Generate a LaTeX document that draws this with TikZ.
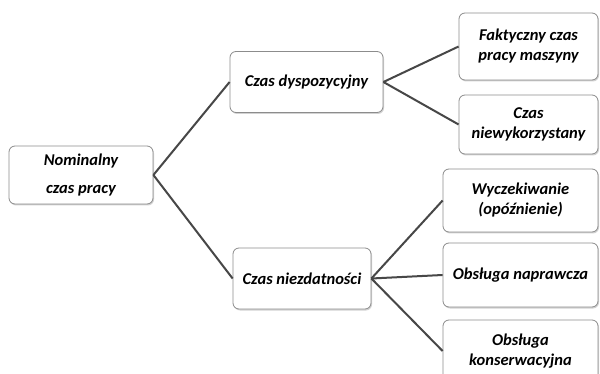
\documentclass[tikz,border=0pt]{standalone}
\usepackage{fontspec}
\setmainfont{Carlito}
\usetikzlibrary{shadows}
\begin{document}
\begin{tikzpicture}[x=1pt,y=-1pt,
  box/.style={draw=black!45, line width=0.8pt, rounded corners=6pt, fill=white,
    align=center, inner sep=0pt,
    font=\fontsize{16.5}{20}\selectfont\bfseries\itshape,
    drop shadow={opacity=0.35, shadow xshift=1pt, shadow yshift=-1.5pt}},
  link/.style={draw=black!72, line width=2pt}]
\clip (0,0) rectangle (600,374);
\fill[white] (0,0) rectangle (600,374);
% nodes: centers and sizes from reference
\node[box, minimum width=144pt, minimum height=58pt, font=\fontsize{16.5}{28}\selectfont\bfseries\itshape] (nom) at (81,175) {Nominalny\\czas pracy};
\node[box, minimum width=153pt, minimum height=61pt] (dys) at (306.5,82) {Czas dyspozycyjny};
\node[box, minimum width=138pt, minimum height=61pt] (nie) at (302,278.5) {Czas niezdatności};
\node[box, minimum width=139pt, minimum height=67pt] (fak) at (528.5,46.5) {Faktyczny czas\\pracy maszyny};
\node[box, minimum width=139pt, minimum height=59pt] (nwy) at (528.5,124.5) {Czas\\niewykorzystany};
\node[box, minimum width=155pt, minimum height=63pt] (wyc) at (520.5,200.5) {Wyczekiwanie\\(opóźnienie)};
\node[box, minimum width=155pt, minimum height=64pt] (nap) at (520.5,275) {Obsługa naprawcza};
\node[box, minimum width=155pt, minimum height=62pt] (kon) at (520.5,351) {Obsługa\\konserwacyjna};
% connectors
\draw[link] (nom.east) -- (dys.west);
\draw[link] (nom.east) -- (nie.west);
\draw[link] (dys.east) -- (fak.west);
\draw[link] (dys.east) -- (nwy.west);
\draw[link] (nie.east) -- (wyc.west);
\draw[link] (nie.east) -- (nap.west);
\draw[link] (nie.east) -- (kon.west);
\end{tikzpicture}
\end{document}
